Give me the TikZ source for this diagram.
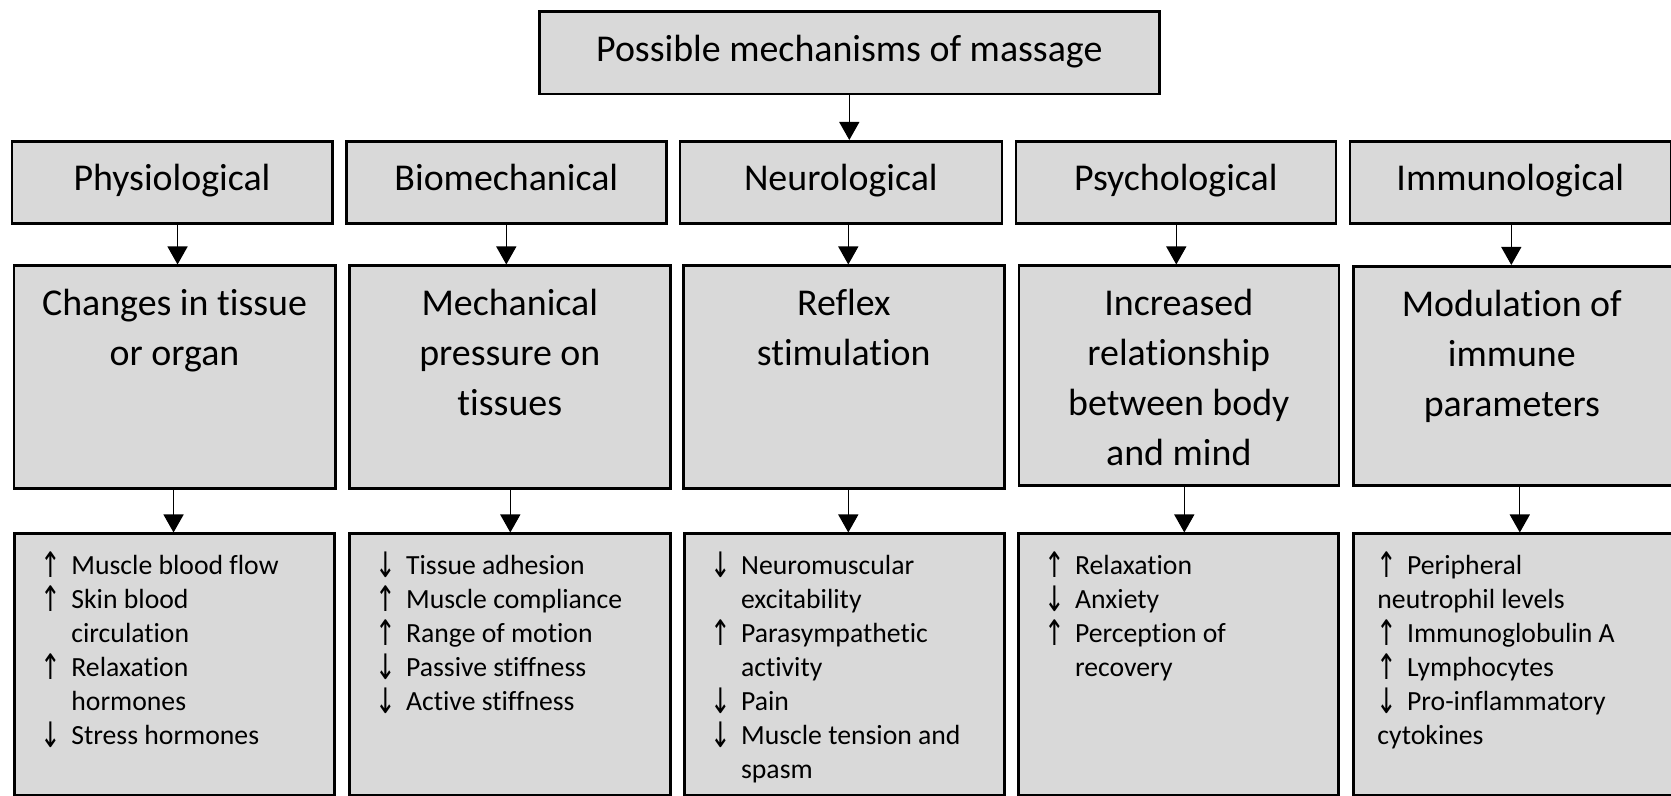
\documentclass[tikz,border=0pt]{standalone}
\usepackage{fontspec}
\usepackage{graphicx}
\setmainfont{Carlito}[Ligatures=NoCommon]
\newfontfamily\symfont{DejaVu Sans}
\usetikzlibrary{arrows.meta}
\definecolor{boxgray}{HTML}{D9D9D9}
\newcommand\arrowglyph[1]{\raisebox{-1.6pt}{\scalebox{0.95}[1.35]{\symfont\fontsize{13}{13}\selectfont #1}}}
\newcommand\arU{\makebox[14.85pt][l]{\hspace*{-0.6pt}\arrowglyph{↑}}}
\newcommand\arD{\makebox[14.85pt][l]{\hspace*{-0.6pt}\arrowglyph{↓}}}
\newcommand\ind{\hspace*{14.85pt}}
\newcommand\bigtxt{\fontsize{18.95}{25}\selectfont}
\newcommand\smalltxt{\fontsize{13.85}{16.95}\selectfont}
\tikzset{
  box/.style={draw=black, line width=1.3pt, fill=boxgray, inner sep=0pt, anchor=north west, font=\bigtxt},
  head/.style={box, minimum height=41.25pt, text height=12.4pt, text depth=4pt},
  mid/.style={box, minimum height=111.5pt},
  low/.style={box, minimum height=130.5pt},
  midtext/.style={anchor=base, inner sep=0pt},
  lowtext/.style={anchor=base west, inner sep=0pt},
  conn/.style={line width=0.65pt, -{Triangle[width=10pt,length=9pt]}}
}
\begin{document}
\begin{tikzpicture}[x=0.5pt,y=-0.5pt]
\useasboundingbox (0,0) rectangle (1671,796);
\begin{scope}
\clip (0,0) rectangle (1671,796);
% title
\node[head, minimum width=310pt, minimum height=41.35pt] (top) at (538,10) {Possible mechanisms of massage};
% row 2
\node[head, minimum width=160.25pt] (p2) at (10.5,140) {Physiological};
\node[head, minimum width=160pt] (b2) at (345,140) {Biomechanical};
\node[head, minimum width=161pt] (n2) at (678.5,140) {Neurological};
\node[head, minimum width=160pt] (s2) at (1014.5,140) {Psychological};
\node[head, minimum width=160.5pt] (i2) at (1348.5,140) {Immunological};
% row 3
\node[mid, minimum width=160.75pt] (p3) at (12.5,264.5) {};
\node[mid, minimum width=160.5pt] (b3) at (348,264.5) {};
\node[mid, minimum width=160.5pt] (n3) at (682,264.5) {};
\node[box, minimum width=160pt, minimum height=109.75pt] (s3) at (1017.5,264.5) {};
\node[box, minimum width=160.5pt, minimum height=109.75pt] (i3) at (1352,265) {};
% row 4
\node[low, minimum width=160pt] (p4) at (13.3,532.5) {};
\node[low, minimum width=160.5pt] (b4) at (348,532.5) {};
\node[low, minimum width=160pt] (n4) at (683,532.5) {};
\node[low, minimum width=160pt] (s4) at (1017,532.5) {};
\node[low, minimum width=160.5pt] (i4) at (1352,532.5) {};
\end{scope}
% row 3 texts
\node[midtext] (p3t) at ([yshift=-25.3pt]p3.north) {\parbox[t]{158pt}{\centering\bigtxt Changes in tissue\\or organ}};
\node[midtext] (b3t) at ([yshift=-25.3pt]b3.north) {\parbox[t]{158pt}{\centering\bigtxt Mechanical\\pressure on\\tissues}};
\node[midtext] (n3t) at ([yshift=-25.3pt]n3.north) {\parbox[t]{158pt}{\centering\bigtxt Reflex\\stimulation}};
\node[midtext] (s3t) at ([yshift=-25.3pt]s3.north) {\parbox[t]{158pt}{\centering\bigtxt Increased\\relationship\\between body\\and mind}};
\node[midtext] (i3t) at ([xshift=-1pt,yshift=-25.55pt]i3.north) {\parbox[t]{158pt}{\centering\bigtxt Modulation of\\immune\\parameters}};
% row 4 texts
\node[lowtext] (p4t) at ([xshift=14pt,yshift=-21.1pt]p4.north west) {\parbox[t]{150pt}{\raggedright\smalltxt
\arU Muscle blood flow\\
\arU Skin blood\\
\ind circulation\\
\arU Relaxation\\
\ind hormones\\
\arD Stress hormones}};
\node[lowtext] (b4t) at ([xshift=14pt,yshift=-21.1pt]b4.north west) {\parbox[t]{150pt}{\raggedright\smalltxt
\arD Tissue adhesion\\
\arU Muscle compliance\\
\arU Range of motion\\
\arD Passive stiffness\\
\arD Active stiffness}};
\node[lowtext] (n4t) at ([xshift=14pt,yshift=-21.1pt]n4.north west) {\parbox[t]{150pt}{\raggedright\smalltxt
\arD Neuromuscular\\
\ind excitability\\
\arU Parasympathetic\\
\ind activity\\
\arD Pain\\
\arD Muscle tension and\\
\ind spasm}};
\node[lowtext] (s4t) at ([xshift=14pt,yshift=-21.1pt]s4.north west) {\parbox[t]{150pt}{\raggedright\smalltxt
\arU Relaxation\\
\arD Anxiety\\
\arU Perception of\\
\ind recovery}};
\node[lowtext] (i4t) at ([xshift=12.5pt,yshift=-21.1pt]i4.north west) {\parbox[t]{150pt}{\raggedright\smalltxt
\arU Peripheral\\
neutrophil levels\\
\arU Immunoglobulin A\\
\arU Lymphocytes\\
\arD Pro-inflammatory\\
cytokines}};
% connectors
\draw[conn] (top.south) -- (top.south |- n2.north);
\draw[conn] ([xshift=1.5pt]p3.north |- p2.south) -- ([xshift=1.5pt]p3.north);
\draw[conn] ([xshift=-1.75pt]b3.north |- b2.south) -- ([xshift=-1.75pt]b3.north);
\draw[conn] ([xshift=2.25pt]n3.north |- n2.south) -- ([xshift=2.25pt]n3.north);
\draw[conn] ([xshift=-1.25pt]s3.north |- s2.south) -- ([xshift=-1.25pt]s3.north);
\draw[conn] ([xshift=-1.25pt]i3.north |- i2.south) -- ([xshift=-1.25pt]i3.north);
\draw[conn] ([xshift=-0.5pt]p3.south) -- ([xshift=-0.5pt]p3.south |- p4.north);
\draw[conn] ([xshift=0.25pt]b3.south) -- ([xshift=0.25pt]b3.south |- b4.north);
\draw[conn] ([xshift=2.25pt]n3.south) -- ([xshift=2.25pt]n3.south |- n4.north);
\draw[conn] ([xshift=2.75pt]s3.south) -- ([xshift=2.75pt]s3.south |- s4.north);
\draw[conn] ([xshift=3pt]i3.south) -- ([xshift=3pt]i3.south |- i4.north);
\end{tikzpicture}
\end{document}
